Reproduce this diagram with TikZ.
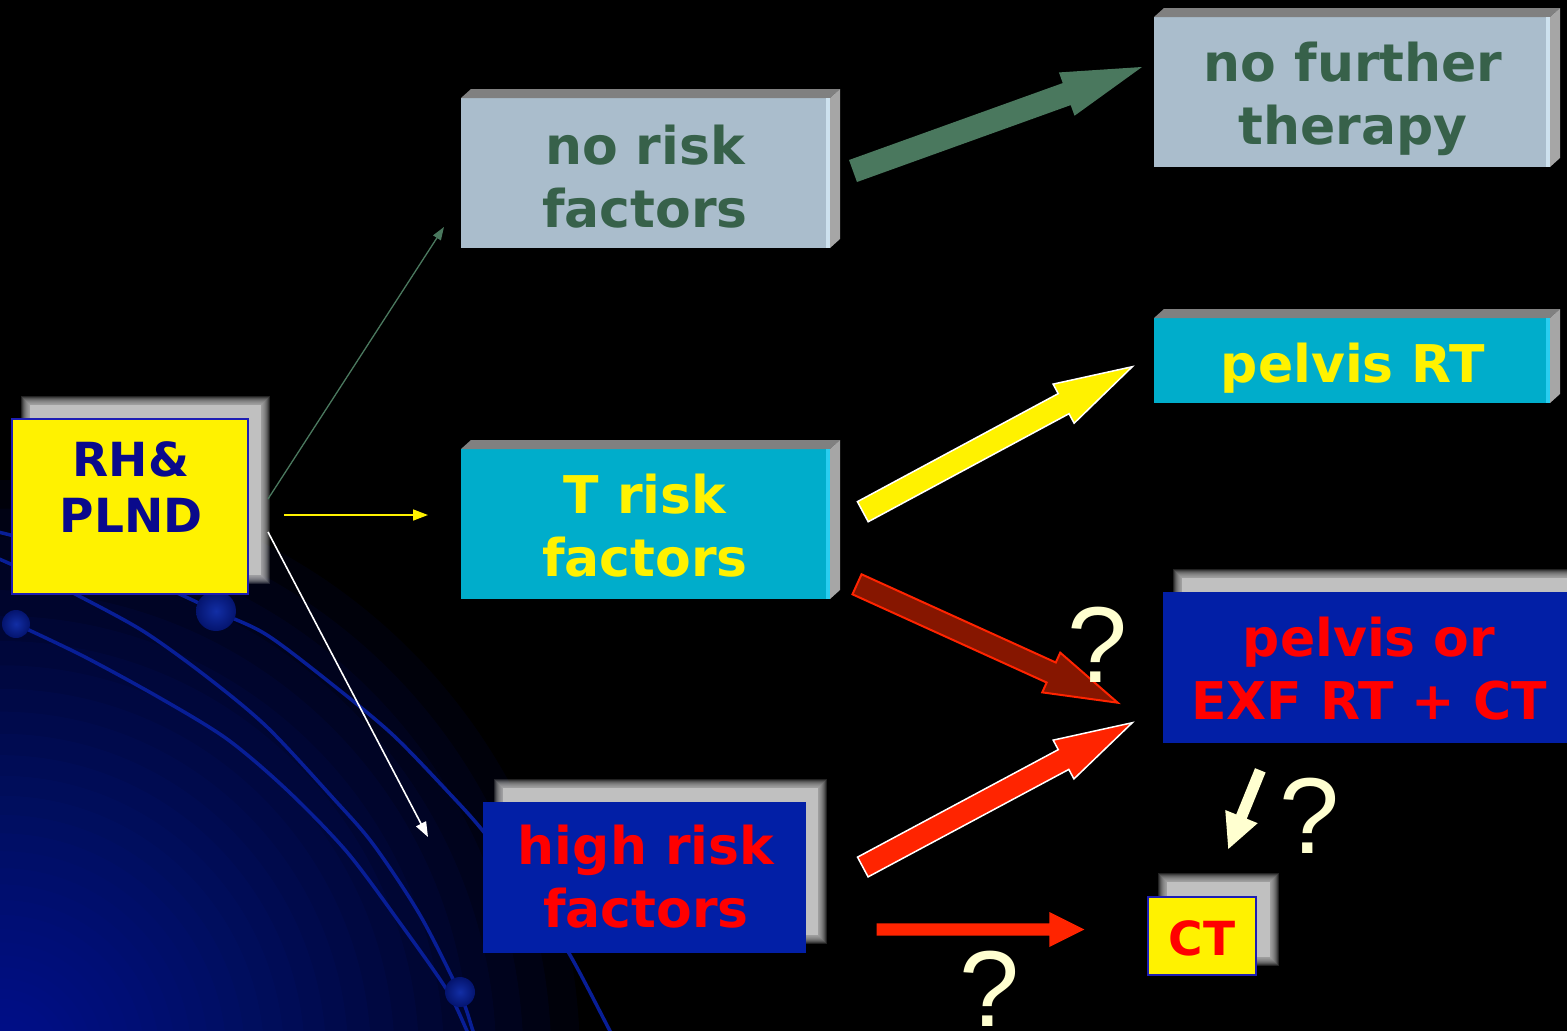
\documentclass[tikz,border=0pt]{standalone}
\usepackage{fontspec}
\setmainfont{DejaVu Sans}
\newfontfamily\qmarkfont{Liberation Sans}
\usetikzlibrary{calc,arrows.meta}

\definecolor{slate}{RGB}{170,189,204}
\definecolor{slatehi}{RGB}{205,225,238}
\definecolor{pine}{RGB}{55,97,74}
\definecolor{pinearrow}{RGB}{74,120,94}
\definecolor{aqua}{RGB}{0,173,203}
\definecolor{aquahi}{RGB}{40,205,240}
\definecolor{royal}{RGB}{2,31,166}
\definecolor{navytext}{RGB}{10,10,140}
\definecolor{boxedge}{RGB}{30,30,180}
\definecolor{arrowred}{RGB}{255,36,0}
\definecolor{maroon}{RGB}{134,22,0}
\definecolor{cream}{RGB}{255,255,208}
\definecolor{topgray}{RGB}{128,128,128}
\definecolor{sidegray}{RGB}{166,166,166}
\definecolor{haze}{RGB}{192,192,192}
\definecolor{glowA}{RGB}{0,28,160}
\definecolor{wire}{RGB}{8,30,150}
\definecolor{beadA}{RGB}{18,46,165}
\definecolor{beadB}{RGB}{4,20,110}

\tikzset{
  panel/.style={rectangle, draw=none, inner sep=0pt, outer sep=0pt},
  caption/.style={font=\bfseries\fontsize{52}{63}\selectfont, align=center, inner sep=0pt},
  smallcaption/.style={font=\bfseries\fontsize{47}{56}\selectfont, align=center, inner sep=0pt},
  qmark/.style={font=\qmarkfont\fontsize{108}{108}\selectfont, text=cream, inner sep=0pt, anchor=base},
  wireline/.style={draw=wire, line width=3.5pt, line cap=round},
  bead/.style={inner color=beadA, outer color=beadB},
  thinarrow/.style={line width=1.6pt, -{Triangle[length=15pt,width=11pt]}},
}

% top and right faces of a raised panel
\newcommand\slabfaces[2]{%
  \fill[topgray] (#1.north west) -- ++(10,-9) -- ($(#1.north east)+(10,-9)$) -- (#1.north east) -- cycle;
  \fill[sidegray] (#1.north east) -- ++(10,-9) -- ($(#1.south east)+(10,-9)$) -- (#1.south east) -- cycle;
  \fill[#2] ($(#1.north east)+(-4,0)$) rectangle (#1.south east);
}

% soft grey glow behind a flat panel
\newcommand\softshade[4]{%
  \foreach \e in {0,...,9} {
    \fill[haze, opacity=0.18] (#1+5-\e,#2+5-\e) rectangle (#3-5+\e,#4-5+\e);
  }
  \fill[haze] (#1+5,#2+5) rectangle (#3-5,#4-5);
}

% block arrow: style, tail, tip, half shaft, half head, head length
\newcommand\fatarrow[6]{%
  \coordinate (fah) at ($(#3)!#6!(#2)$);
  \path[#1] ($(#2)!#4!90:(#3)$) -- ($(fah)!#4!-90:(#2)$) -- ($(fah)!#5!-90:(#2)$)
     -- (#3) -- ($(fah)!#5!90:(#2)$) -- ($(fah)!#4!90:(#2)$) -- ($(#2)!#4!-90:(#3)$) -- cycle;
}

\begin{document}
\begin{tikzpicture}[x=1pt,y=-1pt]
\useasboundingbox (0,0) rectangle (1567,1031);
\clip (0,0) rectangle (1567,1031);

% background with a blue glow in the lower left corner
\fill[black] (0,0) rectangle (1567,1031);
\foreach \k in {1,...,40} {
  \fill[glowA, opacity=0.065] (0,1060) circle [radius={(580*(\k/40)^2)*1pt}];
}

% decorative wires and beads
\draw[wireline] plot[smooth] coordinates {(-10,530) (60,548) (130,572) (216,611) (267,635) (333,685) (393,735) (450,794) (483,831) (530,893) (570,955) (610,1031) (620,1050)};
\draw[wireline] plot[smooth] coordinates {(-10,555) (40,577) (77,595) (143,631) (207,677) (267,727) (333,798) (373,844) (420,915) (460,994) (473,1031) (480,1050)};
\draw[wireline] plot[smooth] coordinates {(16,624) (83,656) (160,698) (227,739) (287,790) (347,852) (400,923) (447,990) (467,1031) (475,1050)};
\shade[bead] (16,624) circle (14pt);
\shade[bead] (216,611) circle (20pt);
\shade[bead] (460,992) circle (15pt);

% soft shadows of the flat panels
\softshade{25}{400}{266}{580}
\softshade{498}{783}{823}{940}
\softshade{1177}{573}{1600}{730}
\softshade{1162}{877}{1275}{962}

% panels
\node[panel, fill=yellow, draw=boxedge, line width=1.5pt, minimum width=236pt, minimum height=175pt] (rh) at (130,506.5) {};
\node[panel, fill=slate, minimum width=369pt, minimum height=150pt] (nrf) at (645.5,173) {};
\node[panel, fill=aqua, minimum width=369pt, minimum height=150pt] (trf) at (645.5,524) {};
\node[panel, fill=royal, minimum width=323pt, minimum height=151pt] (hrf) at (644.5,877.5) {};
\node[panel, fill=slate, minimum width=396pt, minimum height=150pt] (nft) at (1352,92) {};
\node[panel, fill=aqua, minimum width=396pt, minimum height=85pt] (prt) at (1352,360.5) {};
\node[panel, fill=royal, minimum width=412pt, minimum height=151pt] (pex) at (1369,667.5) {};
\node[panel, fill=yellow, draw=boxedge, line width=1.5pt, minimum width=108pt, minimum height=78pt] (ct) at (1202,936) {};

\slabfaces{nrf}{slatehi}
\slabfaces{trf}{aquahi}
\slabfaces{nft}{slatehi}
\slabfaces{prt}{aquahi}

% panel captions
\node[smallcaption, text=navytext] (rhtext) at (131,487) {RH\&\\PLND};
\node[caption, text=pine] (nrftext) at (645,177) {no risk\\factors};
\node[caption, text=yellow] (trftext) at (645,526) {T risk\\factors};
\node[caption, text=red] (hrftext) at (646,877) {high risk\\factors};
\node[caption, text=pine] (nfttext) at (1353,99) {no further\\therapy};
\node[caption, text=yellow] (prttext) at (1353,368) {pelvis RT};
\node[caption, text=red] (pextext) at (1369,669) {pelvis or\\EXF RT + CT};
\node[smallcaption, text=red] (cttext) at (1202,938) {CT};

% thin connectors out of RH&PLND
\coordinate (gstart) at (268,499);
\coordinate (gend) at (444,227);
\coordinate (ystart) at (284,515);
\coordinate (yend) at (428,515);
\coordinate (wstart) at (268,532);
\coordinate (wend) at (428,837);
\draw[thinarrow, draw=pinearrow, fill=pinearrow, line width=1.3pt, -{Triangle[length=13pt,width=9pt]}] (gstart) -- (gend);
\draw[thinarrow, draw=yellow, fill=yellow] (ystart) -- (yend);
\draw[thinarrow, draw=white, fill=white] (wstart) -- (wend);

% block arrows
\coordinate (a1t) at (853,171);   \coordinate (a1h) at (1142,67);
\coordinate (a2t) at (862.8,511.7); \coordinate (a2h) at (1132.3,366.7);
\coordinate (a3t) at (857,584.3); \coordinate (a3h) at (1117.7,702.7);
\coordinate (a4t) at (862.8,867); \coordinate (a4h) at (1132.3,722.7);
\coordinate (a5t) at (876.7,929.5); \coordinate (a5h) at (1084.3,929.5);
\coordinate (a6t) at (1260.3,770.3); \coordinate (a6h) at (1228.3,849);
\fatarrow{fill=pinearrow}{a1t}{a1h}{11.7pt}{23pt}{80pt}
\fatarrow{fill=yellow, draw=white, line width=1.5pt}{a2t}{a2h}{11.4pt}{22.2pt}{78pt}
\fatarrow{fill=maroon, draw=arrowred, line width=2pt}{a3t}{a3h}{11pt}{21.8pt}{73pt}
\fatarrow{fill=arrowred, draw=white, line width=1.5pt}{a4t}{a4h}{11.2pt}{22pt}{78pt}
\fatarrow{fill=arrowred}{a5t}{a5h}{6.2pt}{17.5pt}{35pt}
\fatarrow{fill=cream}{a6t}{a6h}{5.7pt}{17.5pt}{35pt}

% question marks
\node[qmark] (q1) at (1098,682) {?};
\node[qmark] (q2) at (1310,853) {?};
\node[qmark] (q3) at (990,1026) {?};
\end{tikzpicture}
\end{document}
